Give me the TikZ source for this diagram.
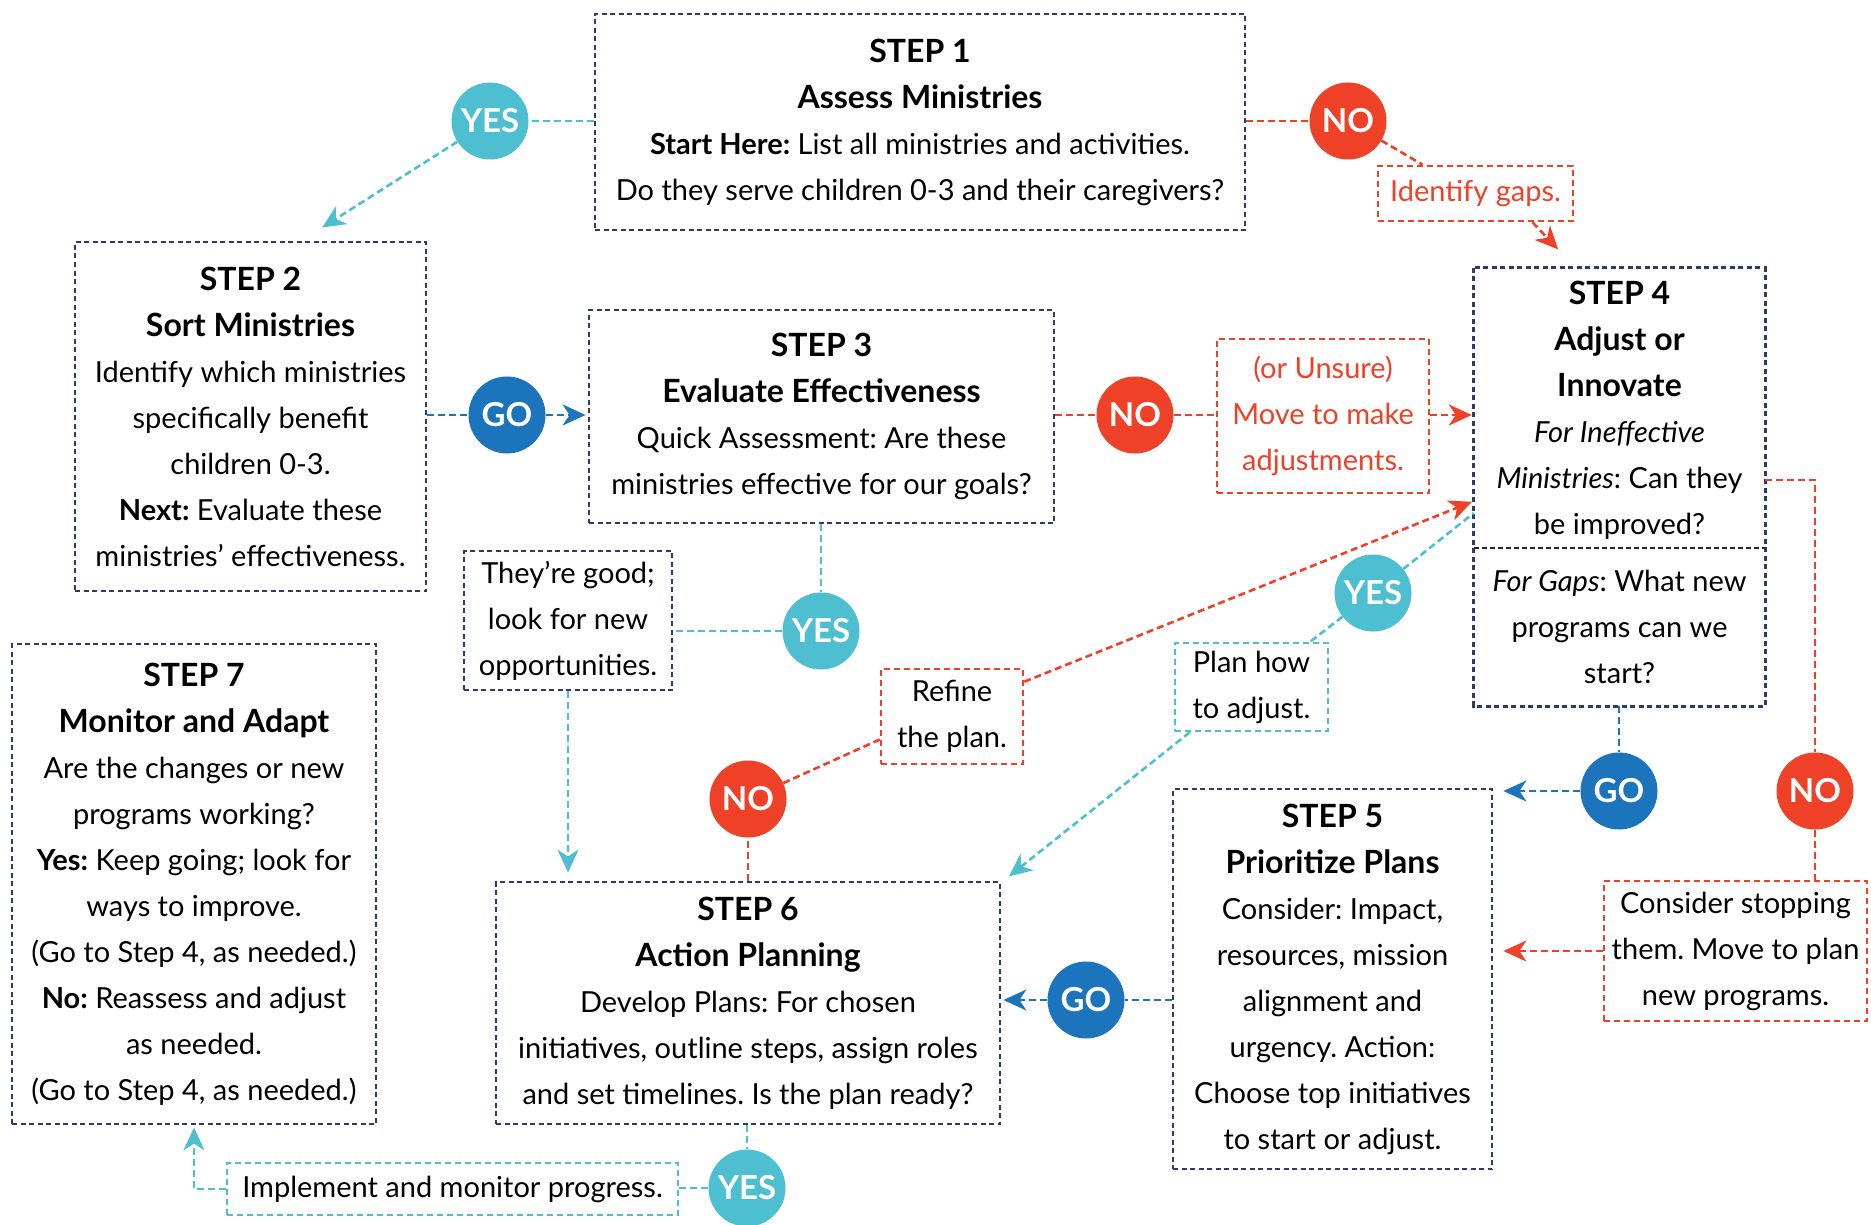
\documentclass[tikz,border=0pt]{standalone}
\usepackage{fontspec}
\setmainfont{Lato}
\usetikzlibrary{arrows.meta}
\frenchspacing

\definecolor{navy}{HTML}{2E3A6B}
\definecolor{sky}{HTML}{4EBFD1}
\definecolor{tomato}{HTML}{EE4128}
\definecolor{ocean}{HTML}{1C75BC}

\newcommand{\hd}[1]{{\fontsize{32}{46}\selectfont\bfseries #1}}

\begin{document}
\begin{tikzpicture}[x=1pt, y=-1pt,
		every node/.style={font=\fontsize{29}{46}\selectfont, align=center, inner sep=0pt},
		stepbox/.style={draw=navy, line width=2.8pt, dash pattern=on 5pt off 3.5pt},
		redbox/.style={draw=tomato, line width=2.6pt, dash pattern=on 6pt off 4pt},
		skybox/.style={draw=sky, line width=2.6pt, dash pattern=on 6pt off 4pt},
		divider/.style={draw=black!85, line width=2.4pt, dash pattern=on 5pt off 3pt},
		bubble/.style={circle, minimum size=77pt, text=white, font=\fontsize{33}{36}\selectfont\bfseries},
		yes/.style={bubble, fill=sky},
		no/.style={bubble, fill=tomato},
		go/.style={bubble, fill=ocean},
		link/.style={line width=2.6pt, dash pattern=on 7pt off 4pt},
		tip/.style={-{Stealth[length=23pt, width=21pt, inset=7pt]}, shorten >=2pt}
	]
	\useasboundingbox (0,0) rectangle (1871,1225);

	% steps
	\node[stepbox, minimum width=650pt, minimum height=216pt] (s1) at (920,122)
		{\hd{STEP 1}\\ \hd{Assess Ministries}\\ \textbf{Start Here:} List all ministries and activities.\\ Do they serve children 0-3 and their caregivers?};
	\node[stepbox, minimum width=351pt, minimum height=349pt] (s2) at (250.5,416.5)
		{\hd{STEP 2}\\ \hd{Sort Ministries}\\ Identify which ministries\\ specifically benefit\\ children 0-3.\\ \textbf{Next:} Evaluate these\\ ministries' effectiveness.};
	\node[stepbox, minimum width=465pt, minimum height=213pt] (s3) at (821.5,416.5)
		{\hd{STEP 3}\\ \hd{Evaluate Effectiveness}\\ Quick Assessment: Are these\\ ministries effective for our goals?};
	\node[minimum width=291pt, minimum height=280pt, text depth=-8pt] (s4a) at (1619.5,408)
		{\hd{STEP 4}\\ \hd{Adjust or}\\ \hd{Innovate}\\ \textit{For Ineffective}\\ \textit{Ministries}: Can they\\ be improved?};
	\node[minimum width=291pt, minimum height=158pt] (s4b) at (1619.5,627)
		{\textit{For Gaps}: What new\\ programs can we\\ start?};
	\draw[stepbox] (s4a.north west) rectangle (s4b.south east);
	\draw[divider] (s4a.south west) -- (s4a.south east);
	\node[stepbox, minimum width=319pt, minimum height=380pt] (s5) at (1332.5,979)
		{\hd{STEP 5}\\ \hd{Prioritize Plans}\\ Consider: Impact,\\ resources, mission\\ alignment and\\ urgency. Action:\\ Choose top initiatives\\ to start or adjust.};
	\node[stepbox, minimum width=504pt, minimum height=242pt] (s6) at (748,1003)
		{\hd{STEP 6}\\ \hd{Action Planning}\\ Develop Plans: For chosen\\ initiatives, outline steps, assign roles\\ and set timelines. Is the plan ready?};
	\node[stepbox, minimum width=364pt, minimum height=480pt] (s7) at (194,884)
		{\hd{STEP 7}\\ \hd{Monitor and Adapt}\\ Are the changes or new\\ programs working?\\ \textbf{Yes:} Keep going; look for\\ ways to improve.\\ (Go to Step 4, as needed.)\\ \textbf{No:} Reassess and adjust\\ as needed.\\ (Go to Step 4, as needed.)};

	% side notes
	\node[stepbox, minimum width=208pt, minimum height=139pt] (good) at (568,620.5)
		{They're good;\\ look for new\\ opportunities.};
	\node[redbox, minimum width=142pt, minimum height=95pt] (refine) at (952,716.5)
		{Refine\\ the plan.};
	\node[skybox, minimum width=153pt, minimum height=88pt] (plan) at (1251.5,687)
		{Plan how\\ to adjust.};
	\node[redbox, minimum width=212pt, minimum height=154pt, text=tomato] (unsure) at (1323,416)
		{(or Unsure)\\ Move to make\\ adjustments.};
	\node[redbox, minimum width=195pt, minimum height=55pt, text=tomato] (gaps) at (1475.5,193.5)
		{Identify gaps.};
	\node[redbox, minimum width=263pt, minimum height=140pt] (stop) at (1735.5,951)
		{Consider stopping\\ them. Move to plan\\ new programs.};
	\node[skybox, minimum width=451pt, minimum height=52pt] (impl) at (452.5,1189)
		{Implement and monitor progress.};

	% answers
	\node[yes] (yes1) at (490,121) {YES};
	\node[no] (no1) at (1348,121) {NO};
	\node[go] (go2) at (507,415) {GO};
	\node[no] (no3) at (1135,415) {NO};
	\node[yes] (yes3) at (821,631) {YES};
	\node[yes] (yes4) at (1373,593) {YES};
	\node[no] (no6) at (748,799) {NO};
	\node[go] (go4) at (1619,791) {GO};
	\node[no] (no4) at (1815,791) {NO};
	\node[go] (go5) at (1086,1000) {GO};
	\node[yes] (yes6) at (747,1188) {YES};

	% cyan paths
	\path[link, draw=sky]
		(s1.west |- yes1) edge (yes1)
		(yes1) edge[tip, sky] ([xshift=70pt, yshift=12pt]s2.north)
		(s3.south -| yes3) edge (yes3)
		(yes3) edge (yes3 -| good.east)
		(good.south) edge[tip, sky] ([yshift=6pt]good.south |- s6.north)
		(yes4) edge ([yshift=-105pt]s4a.west)
		(yes4) edge ([xshift=-19pt]plan.north east)
		([xshift=16pt]plan.south west) edge[tip, sky] ([xshift=6pt, yshift=3pt]s6.north east)
		(s6.south -| yes6) edge (yes6)
		(yes6) edge (yes6 -| impl.east)
		;
	\draw[link, sky, tip] (impl.west) -| (s7.south);

	% red paths
	\path[link, draw=tomato]
		(s1.east |- no1) edge (no1)
		(no1) edge ([xshift=-53pt]gaps.north)
		([xshift=57pt]gaps.south) edge[tip, tomato] ([xshift=-60pt, yshift=17pt]s4a.north)
		(s3.east |- no3) edge (no3)
		(no3) edge (no3 -| unsure.west)
		(unsure.east |- no3) edge[tip, tomato] (no3 -| s4a.west)
		(s6.north -| no6) edge (no6)
		(no6) edge ([yshift=-23pt]refine.west)
		([yshift=-14pt]refine.north east) edge[tip, tomato] ([yshift=-93pt]s4a.west)
		(no4) edge (no4 |- stop.north)
		(stop.west) edge[tip, tomato] ([xshift=8pt]stop.west -| s5.east)
		;
	\draw[link, tomato] ([yshift=-72pt]s4a.east) -| (no4);

	% blue paths
	\path[link, draw=ocean]
		(s2.east |- go2) edge (go2)
		(go2) edge[tip, ocean] (go2 -| s3.west)
		(s4b.south -| go4) edge (go4)
		(go4) edge[tip, ocean] ([xshift=8pt]go4 -| s5.east)
		(go5 -| s5.west) edge (go5)
		(go5) edge[tip, ocean] (go5 -| s6.east)
		;
\end{tikzpicture}
\end{document}
